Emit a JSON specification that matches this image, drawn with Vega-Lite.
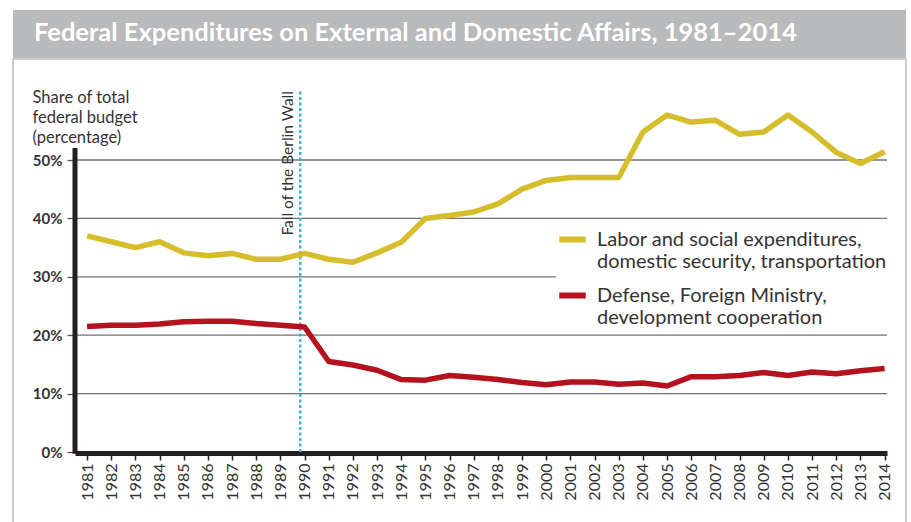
{
  "$schema": "https://vega.github.io/schema/vega-lite/v6.json",
  "padding": {"left": 12, "top": 10, "right": 0, "bottom": 0},
  "background": "white",
  "spacing": 0,
  "config": {"font": "Lato", "concat": {"spacing": 0}},
  "datasets": {
    "shares": [
      {"year": 1981, "series": "domestic", "value": 37.0},
      {"year": 1982, "series": "domestic", "value": 36.0},
      {"year": 1983, "series": "domestic", "value": 35.0},
      {"year": 1984, "series": "domestic", "value": 36.0},
      {"year": 1985, "series": "domestic", "value": 34.1},
      {"year": 1986, "series": "domestic", "value": 33.6},
      {"year": 1987, "series": "domestic", "value": 34.0},
      {"year": 1988, "series": "domestic", "value": 33.0},
      {"year": 1989, "series": "domestic", "value": 33.0},
      {"year": 1990, "series": "domestic", "value": 34.0},
      {"year": 1991, "series": "domestic", "value": 33.0},
      {"year": 1992, "series": "domestic", "value": 32.5},
      {"year": 1993, "series": "domestic", "value": 34.1},
      {"year": 1994, "series": "domestic", "value": 35.9},
      {"year": 1995, "series": "domestic", "value": 40.0},
      {"year": 1996, "series": "domestic", "value": 40.5},
      {"year": 1997, "series": "domestic", "value": 41.1},
      {"year": 1998, "series": "domestic", "value": 42.5},
      {"year": 1999, "series": "domestic", "value": 45.0},
      {"year": 2000, "series": "domestic", "value": 46.5},
      {"year": 2001, "series": "domestic", "value": 47.0},
      {"year": 2002, "series": "domestic", "value": 47.0},
      {"year": 2003, "series": "domestic", "value": 47.0},
      {"year": 2004, "series": "domestic", "value": 54.8},
      {"year": 2005, "series": "domestic", "value": 57.7},
      {"year": 2006, "series": "domestic", "value": 56.5},
      {"year": 2007, "series": "domestic", "value": 56.8},
      {"year": 2008, "series": "domestic", "value": 54.4},
      {"year": 2009, "series": "domestic", "value": 54.8},
      {"year": 2010, "series": "domestic", "value": 57.7},
      {"year": 2011, "series": "domestic", "value": 54.8},
      {"year": 2012, "series": "domestic", "value": 51.3},
      {"year": 2013, "series": "domestic", "value": 49.4},
      {"year": 2014, "series": "domestic", "value": 51.4},
      {"year": 1981, "series": "external", "value": 21.5},
      {"year": 1982, "series": "external", "value": 21.7},
      {"year": 1983, "series": "external", "value": 21.7},
      {"year": 1984, "series": "external", "value": 21.9},
      {"year": 1985, "series": "external", "value": 22.3},
      {"year": 1986, "series": "external", "value": 22.4},
      {"year": 1987, "series": "external", "value": 22.4},
      {"year": 1988, "series": "external", "value": 22.0},
      {"year": 1989, "series": "external", "value": 21.7},
      {"year": 1990, "series": "external", "value": 21.4},
      {"year": 1991, "series": "external", "value": 15.5},
      {"year": 1992, "series": "external", "value": 14.9},
      {"year": 1993, "series": "external", "value": 14.0},
      {"year": 1994, "series": "external", "value": 12.4},
      {"year": 1995, "series": "external", "value": 12.3},
      {"year": 1996, "series": "external", "value": 13.1},
      {"year": 1997, "series": "external", "value": 12.8},
      {"year": 1998, "series": "external", "value": 12.4},
      {"year": 1999, "series": "external", "value": 11.9},
      {"year": 2000, "series": "external", "value": 11.5},
      {"year": 2001, "series": "external", "value": 12.0},
      {"year": 2002, "series": "external", "value": 12.0},
      {"year": 2003, "series": "external", "value": 11.6},
      {"year": 2004, "series": "external", "value": 11.8},
      {"year": 2005, "series": "external", "value": 11.3},
      {"year": 2006, "series": "external", "value": 12.9},
      {"year": 2007, "series": "external", "value": 12.9},
      {"year": 2008, "series": "external", "value": 13.1},
      {"year": 2009, "series": "external", "value": 13.6},
      {"year": 2010, "series": "external", "value": 13.1},
      {"year": 2011, "series": "external", "value": 13.7},
      {"year": 2012, "series": "external", "value": 13.4},
      {"year": 2013, "series": "external", "value": 13.9},
      {"year": 2014, "series": "external", "value": 14.3}
    ]
  },
  "vconcat": [
    {
      "width": 893,
      "height": 48,
      "view": {"fill": "#b9babc", "stroke": null},
      "data": {"values": [{"t": "Federal Expenditures on External and Domestic Affairs, 1981–2014"}]},
      "mark": {"type": "text", "align": "left", "baseline": "alphabetic", "dx": -425.5, "dy": 7, "fontSize": 25.5, "fontWeight": "bold", "font": "Lato", "color": "white"},
      "encoding": {"text": {"field": "t"}}
    },
    {
      "width": 893,
      "height": 466,
      "view": {"stroke": "#cbcbcb", "strokeWidth": 2, "fill": "white"},
      "layer": [
        {
          "data": {"values": [{"v": 10}, {"v": 20}, {"v": 40}, {"v": 50}]},
          "mark": {"type": "rule", "color": "#707173", "strokeWidth": 1.3},
          "encoding": {
            "y": {"field": "v", "type": "quantitative"},
            "x": {"datum": 1980.5, "type": "quantitative"},
            "x2": {"datum": 2014.1}
          }
        },
        {
          "data": {"values": [{"v": 30}]},
          "mark": {"type": "rule", "color": "#707173", "strokeWidth": 1.3},
          "encoding": {
            "y": {"field": "v", "type": "quantitative"},
            "x": {"datum": 1980.5, "type": "quantitative"},
            "x2": {"datum": 2000.4}
          }
        },
        {
          "data": {"values": [{}]},
          "mark": {"type": "rule", "color": "#3db5c9", "strokeWidth": 2.5, "strokeDash": [3, 2.5]},
          "encoding": {
            "x": {"datum": 1989.82, "type": "quantitative"},
            "y": {"datum": 0, "type": "quantitative"},
            "y2": {"datum": 62.16}
          }
        },
        {
          "data": {"values": [{"label": "Fall of the Berlin Wall"}]},
          "mark": {"type": "text", "angle": 270, "align": "right", "baseline": "bottom", "dy": -4, "fontSize": 15.5, "color": "#333333", "font": "Lato"},
          "encoding": {
            "x": {"datum": 1989.82, "type": "quantitative"},
            "y": {"datum": 61.8, "type": "quantitative"},
            "text": {"field": "label"}
          }
        },
        {
          "data": {"values": [{}]},
          "mark": {"type": "rule", "color": "#231f20", "strokeWidth": 5},
          "encoding": {
            "x": {"datum": 1980.5, "type": "quantitative"},
            "y": {"datum": -0.3, "type": "quantitative"},
            "y2": {"datum": 52.05}
          }
        },
        {
          "data": {"name": "shares"},
          "mark": {"type": "line", "strokeWidth": 5.5, "strokeJoin": "round", "strokeCap": "butt"},
          "encoding": {
            "x": {
              "field": "year",
              "type": "quantitative",
              "scale": {"domain": [1980.5, 2014.1], "range": [62, 874], "nice": false, "zero": false},
              "axis": {
                "values": [1981, 1982, 1983, 1984, 1985, 1986, 1987, 1988, 1989, 1990, 1991, 1992, 1993, 1994, 1995, 1996, 1997, 1998, 1999, 2000, 2001, 2002, 2003, 2004, 2005, 2006, 2007, 2008, 2009, 2010, 2011, 2012, 2013, 2014],
                "tickCount": 60,
                "format": "d",
                "labelAngle": -90,
                "labelAlign": "right",
                "labelBaseline": "middle",
                "labelFontSize": 16,
                "labelColor": "#333333",
                "labelPadding": 3,
                "labelOverlap": false,
                "labelFlush": false,
                "ticks": true,
                "tickColor": "#231f20",
                "tickSize": 7,
                "tickWidth": 1.5,
                "domain": true,
                "domainColor": "#231f20",
                "domainWidth": 5,
                "grid": false,
                "title": null,
                "offset": -72
              }
            },
            "y": {
              "field": "value",
              "type": "quantitative",
              "scale": {"domain": [0, 62.16], "range": [393, 30], "nice": false, "zero": false},
              "axis": {
                "values": [0, 10, 20, 30, 40, 50],
                "tickCount": 20,
                "labelExpr": "datum.value + '%'",
                "labelFontSize": 15,
                "labelFontWeight": "bold",
                "labelColor": "#333333",
                "labelPadding": 5,
                "domain": false,
                "grid": false,
                "ticks": true,
                "tickColor": "#555555",
                "tickSize": 8,
                "tickWidth": 1.3,
                "offset": -62,
                "title": ["Share of total", "federal budget", "(percentage)"],
                "titleAngle": 0,
                "titleAlign": "left",
                "titleBaseline": "top",
                "titleX": -43,
                "titleY": 30,
                "titleFontSize": 16.5,
                "titleFontWeight": "normal",
                "titleColor": "#333333",
                "titleLineHeight": 20
              }
            },
            "color": {
              "field": "series",
              "type": "nominal",
              "scale": {"domain": ["domestic", "external"], "range": ["#d5bd2b", "#b3121e"]},
              "legend": {
                "orient": "none",
                "legendX": 537,
                "legendY": 207,
                "title": null,
                "padding": 6,
                "symbolType": "stroke",
                "symbolStrokeWidth": 6,
                "symbolSize": 700,
                "labelFontSize": 20,
                "labelFont": "Lato",
                "labelColor": "#333333",
                "labelLimit": 420,
                "labelOffset": 8,
                "rowPadding": 7,
                "labelExpr": "datum.value == 'domestic' ? ['Labor and social expenditures,', 'domestic security, transportation'] : ['Defense, Foreign Ministry,', 'development cooperation']"
              }
            }
          }
        }
      ]
    }
  ]
}
